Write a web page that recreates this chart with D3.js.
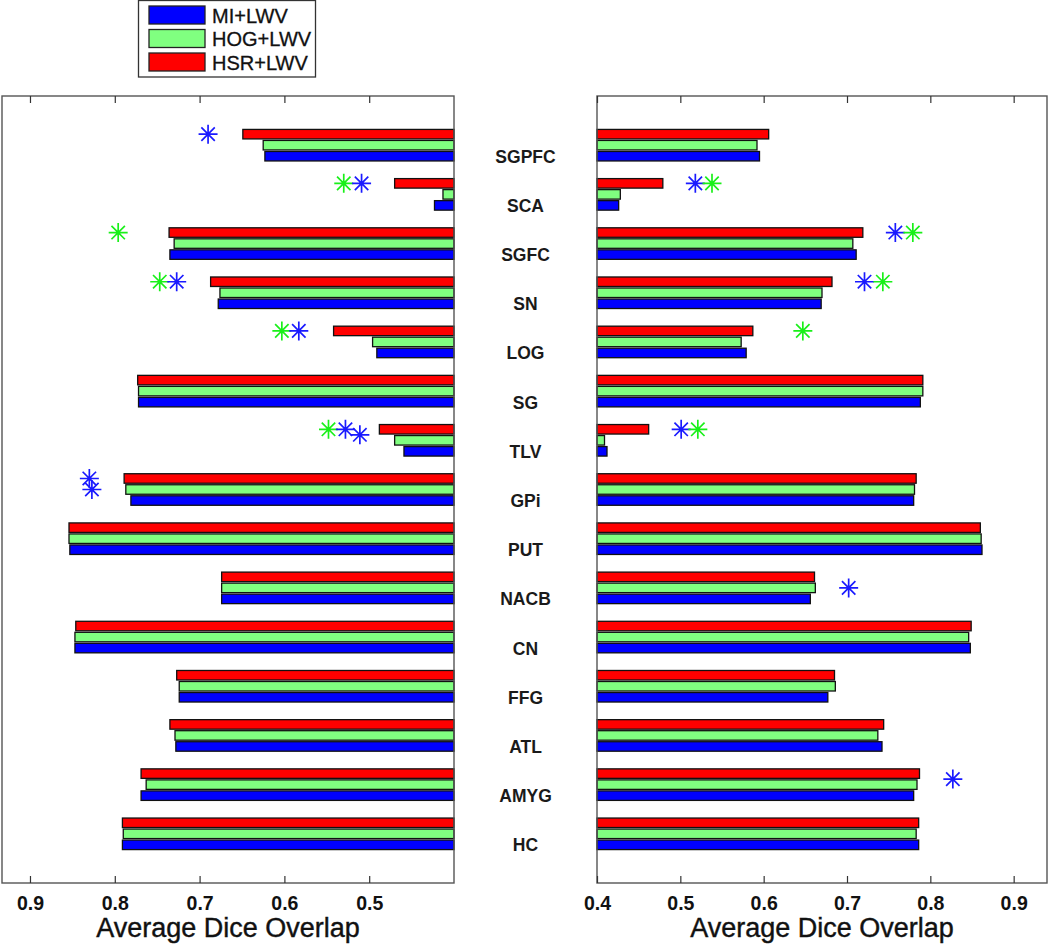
<!DOCTYPE html>
<html><head><meta charset="utf-8">
<script src="https://cdn.jsdelivr.net/npm/d3@7"></script>
<style>body{margin:0;background:#fff;} svg{display:block;font-family:"Liberation Sans",Arial,sans-serif;}</style>
</head><body><svg id="chart" width="1050" height="944"></svg>
<script>
const categories = ["SGPFC","SCA","SGFC","SN","LOG","SG","TLV","GPi","PUT","NACB","CN","FFG","ATL","AMYG","HC"];
const seriesNames = ["MI+LWV","HOG+LWV","HSR+LWV"];
const seriesColors = ["#0000ff","#80ff80","#ff0000"];
const starColors = ["#1a1aff","#19f019"];

const leftMI  = [0.623,0.423,0.735,0.678,0.491,0.772,0.459,0.781,0.853,0.674,0.847,0.724,0.728,0.769,0.791];
const leftHOG = [0.625,0.413,0.730,0.676,0.496,0.772,0.470,0.787,0.854,0.674,0.847,0.724,0.729,0.763,0.790];
const leftHSR = [0.649,0.470,0.736,0.687,0.542,0.773,0.488,0.789,0.854,0.674,0.846,0.727,0.735,0.769,0.791];

const rightMI  = [0.595,0.426,0.711,0.669,0.579,0.788,0.412,0.780,0.862,0.656,0.848,0.677,0.742,0.780,0.786];
const rightHOG = [0.592,0.428,0.707,0.670,0.573,0.791,0.409,0.781,0.861,0.662,0.846,0.686,0.737,0.784,0.783];
const rightHSR = [0.606,0.479,0.719,0.682,0.587,0.791,0.462,0.783,0.860,0.661,0.849,0.685,0.744,0.787,0.786];

const tickLeft  = [0.5,0.6,0.7,0.8,0.9];
const tickRight = [0.4,0.5,0.6,0.7,0.8,0.9];

// significance markers: [category, value, series index (0 MI, 1 HOG), row (2 = HSR row, 1 = HOG row)]
const leftStars = [
  ["SGPFC",0.690,0,2],
  ["SCA",0.530,1,2],["SCA",0.509,0,2],
  ["SGFC",0.796,1,2],
  ["SN",0.747,1,2],["SN",0.727,0,2],
  ["LOG",0.603,1,2],["LOG",0.583,0,2],
  ["TLV",0.548,1,2],["TLV",0.528,0,2],["TLV",0.511,0,1.5],
  ["GPi",0.830,0,2],["GPi",0.827,0,1]
];
const rightStars = [
  ["SCA",0.518,0,2],["SCA",0.538,1,2],
  ["SGFC",0.758,0,2],["SGFC",0.779,1,2],
  ["SN",0.721,0,2],["SN",0.743,1,2],
  ["LOG",0.647,1,2],
  ["TLV",0.501,0,2],["TLV",0.521,1,2],
  ["NACB",0.702,0,1],
  ["AMYG",0.827,0,1.5]
];

const svg = d3.select("#chart");
const yTop = 96, yBottom = 883;
const y = d3.scaleLinear().domain([0, categories.length + 1]).range([yTop, yBottom]);
const rowStep = 0.224;   // in category units
const barH = 9.5;

const panels = [
  {x0: 2, x1: 454, domain: [0.933, 0.4], series: [leftMI, leftHOG, leftHSR], stars: leftStars, ticks: tickLeft},
  {x0: 597, x1: 1047, domain: [0.4, 0.94], series: [rightMI, rightHOG, rightHSR], stars: rightStars, ticks: tickRight}
];

function rowPos(i, row) { // row: 0 MI (bottom), 1 HOG, 2 HSR (top)
  return y(i + 1 + (1 - row) * rowStep);
}

function starPath(r) {
  const d = r * Math.SQRT1_2;
  return `M${-r},0L${r},0M0,${-r}L0,${r}M${-d},${-d}L${d},${d}M${-d},${d}L${d},${-d}`;
}

panels.forEach(p => {
  const x = d3.scaleLinear().domain(p.domain).range([p.x0, p.x1]);
  const g = svg.append("g");
  const base = x(0.4);
  p.series.forEach((vals, s) => {
    g.selectAll(null).data(vals).enter().append("rect")
      .attr("x", d => Math.min(base, x(d)))
      .attr("width", d => Math.abs(x(d) - base))
      .attr("y", (d, i) => rowPos(i, s) - barH / 2)
      .attr("height", barH)
      .attr("fill", seriesColors[s])
      .attr("stroke", "#111")
      .attr("stroke-width", 1.3);
  });
  g.selectAll(null).data(p.stars).enter().append("path")
    .attr("transform", d => `translate(${x(d[1])},${rowPos(categories.indexOf(d[0]), d[3])})`)
    .attr("d", starPath(9.5))
    .attr("stroke", d => starColors[d[2]])
    .attr("stroke-width", 1.7)
    .attr("fill", "none");

  g.append("rect").attr("x", p.x0).attr("y", yTop).attr("width", p.x1 - p.x0).attr("height", yBottom - yTop)
    .attr("fill", "none").attr("stroke", "#555").attr("stroke-width", 1.4);

  const axB = d3.axisBottom(x).tickValues(p.ticks).tickSize(-7).tickPadding(13).tickFormat(d3.format(".1f"));
  const gb = g.append("g").attr("transform", `translate(0,${yBottom})`).call(axB);
  gb.select(".domain").remove();
  gb.selectAll(".tick line").attr("stroke", "#333").attr("stroke-width", 1.2);
  gb.selectAll(".tick text").attr("font-size", 19.5).attr("font-weight", "bold").attr("fill", "#111")
    .attr("font-family", "'Liberation Sans',Arial,sans-serif");

  const axT = d3.axisTop(x).tickValues(p.ticks).tickSize(-7).tickFormat("");
  const gt = g.append("g").attr("transform", `translate(0,${yTop})`).call(axT);
  gt.select(".domain").remove();
  gt.selectAll(".tick line").attr("stroke", "#333").attr("stroke-width", 1.2);

  g.append("text").attr("x", (p.x0 + p.x1) / 2).attr("y", 937).attr("text-anchor", "middle")
    .attr("font-size", 27).attr("fill", "#111").attr("stroke", "#111").attr("stroke-width", 0.4)
    .text("Average Dice Overlap");
});

svg.append("g").selectAll("text").data(categories).enter().append("text")
  .attr("x", 525.5)
  .attr("y", (d, i) => rowPos(i, 0) + 6.5)
  .attr("text-anchor", "middle")
  .attr("font-size", 17.5).attr("font-weight", "bold").attr("fill", "#1a1a1a")
  .text(d => d);

const lg = svg.append("g");
lg.append("rect").attr("x", 138.5).attr("y", 0.5).attr("width", 177).attr("height", 76.5)
  .attr("fill", "#fff").attr("stroke", "#333").attr("stroke-width", 1.3);
const legendOrder = [0, 1, 2];
const ly = d3.scalePoint().domain(legendOrder).range([15, 62]);
lg.selectAll(null).data(legendOrder).enter().append("rect")
  .attr("x", 149).attr("width", 56).attr("y", d => ly(d) - 9).attr("height", 18)
  .attr("fill", d => seriesColors[d]).attr("stroke", "#222").attr("stroke-width", 1.3);
lg.selectAll(null).data(legendOrder).enter().append("text")
  .attr("x", 212).attr("y", d => ly(d) + 7.5)
  .attr("font-size", 20).attr("fill", "#111").attr("stroke", "#111").attr("stroke-width", 0.3)
  .text(d => seriesNames[d]);
</script></body></html>
